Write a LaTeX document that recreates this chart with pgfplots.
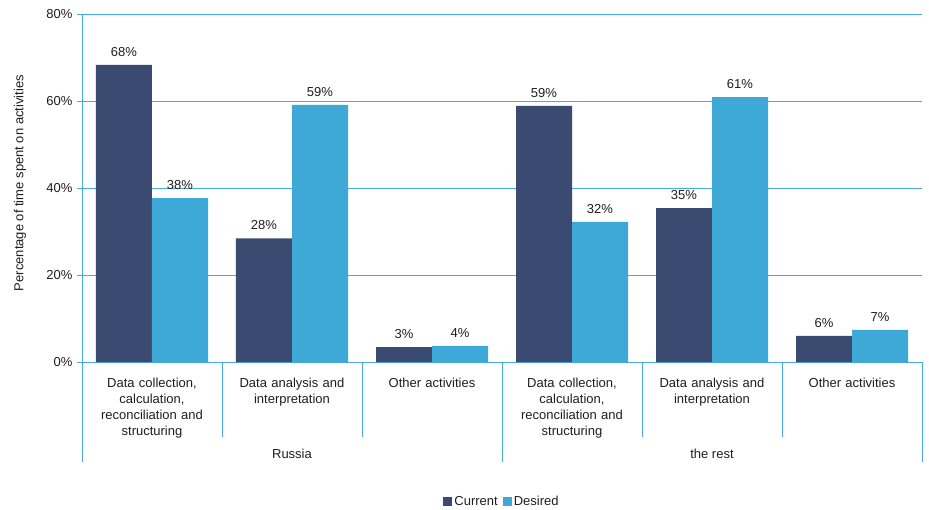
\documentclass[border=0pt]{standalone}
\usepackage{fontspec}
\setmainfont{Liberation Sans}
\usepackage{pgfplots}
\pgfplotsset{compat=1.18}
\usepackage{pgfplotstable}
\definecolor{cur}{RGB}{58,74,112}
\definecolor{des}{RGB}{62,168,214}
\definecolor{gridc}{RGB}{70,170,218}
\definecolor{txt}{RGB}{30,30,30}
\pgfplotstableread{
x cur curl des desl
0.5 68.3 68 37.7 38
1.5 28.4 28 59.1 59
2.5 3.4 3 3.7 4
3.5 58.9 59 32.2 32
4.5 35.4 35 60.9 61
5.5 6.0 6 7.4 7
}\datatab
\begin{document}
\fontsize{13bp}{15bp}\selectfont
\begin{tikzpicture}
\begin{axis}[
  at={(0,0)}, anchor=south west,
  scale only axis, width=840bp, height=348bp,
  xmin=0, xmax=6, ymin=0, ymax=80,
  axis x line*=bottom, axis y line*=left,
  axis line style={draw=gridc, line width=0.9bp},
  ymajorgrids, grid style={draw=gridc, line width=0.9bp},
  /pgf/number format/assume math mode=true,
  ytick={0,20,40,60,80},
  yticklabel={\pgfmathprintnumber{\tick}\%},
  yticklabel style={font=\fontsize{13bp}{15bp}\selectfont, text=txt},
  tick align=outside, major tick length=5bp,
  ytick style={draw=gridc, line width=0.9bp},
  xtick={0.5,1.5,2.5,3.5,4.5,5.5},
  xtick style={draw=none},
  xticklabels={{Data collection,\\calculation,\\reconciliation and\\structuring},
               {Data analysis and\\interpretation},
               {Other activities},
               {Data collection,\\calculation,\\reconciliation and\\structuring},
               {Data analysis and\\interpretation},
               {Other activities}},
  xticklabel style={font=\fontsize{13bp}{16bp}\selectfont, text=txt, align=center, text width=135bp, anchor=north, yshift=-7bp},
  ylabel={Percentage of time spent on activities},
  ylabel style={font=\fontsize{13bp}{15bp}\selectfont, text=txt, at={(axis description cs:-0.0738,0.514)}, anchor=center},
  ybar=0pt, bar width=56bp,
  nodes near coords={\pgfplotspointmeta\%},
  point meta=explicit symbolic,
  every node near coord/.append style={font=\fontsize{13bp}{15bp}\selectfont, text=txt, yshift=4bp},
  clip=false,
  legend style={draw=none, fill=none, legend columns=2, at={(0.5,-0.402)}, anchor=center,
    font=\fontsize{13bp}{15bp}\selectfont, text=txt,
    /tikz/every even column/.append style={column sep=3bp},
    inner sep=0pt},
  legend image code/.code={\fill[#1] (0bp,-4.5bp) rectangle (9bp,4.5bp);},
]
\addplot[fill=cur, draw=none] table[x=x, y=cur, meta=curl] {\datatab};
\addlegendentry{Current}
\addplot[fill=des, draw=none] table[x=x, y=des, meta=desl] {\datatab};
\addlegendentry{Desired}
\pgfplotsinvokeforeach{1,2,4,5}{
  \draw[gridc, line width=0.9bp] (axis cs:#1,0) -- ++(0,-75bp);
}
\pgfplotsinvokeforeach{0,3,6}{
  \draw[gridc, line width=0.9bp] (axis cs:#1,0) -- ++(0,-100bp);
}
\node[text=txt, font=\fontsize{13bp}{15bp}\selectfont] at ([yshift=-92bp]axis cs:1.5,0) {Russia};
\node[text=txt, font=\fontsize{13bp}{15bp}\selectfont] at ([yshift=-92bp]axis cs:4.5,0) {the rest};
\end{axis}
\pgfresetboundingbox
\path (-82bp,-148bp) rectangle (847bp,362bp);
\end{tikzpicture}
\end{document}
